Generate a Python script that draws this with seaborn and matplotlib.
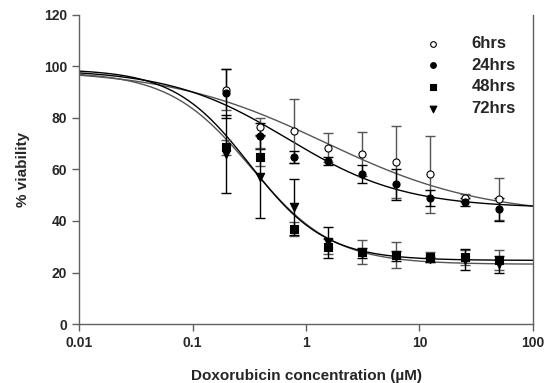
import numpy as np
import pandas as pd
import matplotlib
matplotlib.use("Agg")
import matplotlib.pyplot as plt
import seaborn as sns

# ---- data ----
conc = [0.195, 0.39, 0.78, 1.56, 3.125, 6.25, 12.5, 25, 50]
series = ["6hrs", "24hrs", "48hrs", "72hrs"]
v6 = [91.0, 76.4, 75.0, 68.5, 65.9, 63.0, 58.1, 48.8, 48.5]
e6 = [8.0, 3.5, 12.4, 5.5, 8.5, 14.0, 15.0, 1.5, 8.3]
v24 = [89.5, 72.9, 64.8, 63.3, 58.3, 54.2, 49.0, 47.5, 44.5]
e24 = [9.5, 5.0, 2.3, 1.5, 3.5, 6.0, 3.0, 1.5, 4.4]
v48 = [68.6, 64.9, 36.8, 30.0, 28.0, 26.8, 26.1, 25.9, 24.9]
e48 = [3.0, 3.6, 2.7, 3.0, 4.8, 5.0, 2.0, 3.0, 4.0]
v72 = [66.0, 57.2, 45.4, 31.7, 27.5, 26.4, 25.2, 25.0, 23.2]
e72 = [15.3, 16.0, 11.0, 6.0, 2.0, 2.0, 1.0, 4.0, 3.4]
values = [v6, v24, v48, v72]
errors = [e6, e24, e48, e72]

# fitted four-parameter logistic curves: top, bottom, EC50, Hill slope
fit_top = [99.0, 99.0, 98.0, 99.0]
fit_bottom = [42.0, 45.0, 23.2, 24.7]
fit_ec50 = [1.47, 0.684, 0.33, 0.32]
fit_hill = [0.626, 0.84, 1.2, 1.3]

xticks = [0.01, 0.1, 1, 10, 100]
xtick_labels = ["0.01", "0.1", "1", "10", "100"]
yticks = [0, 20, 40, 60, 80, 100, 120]

# ---- styles ----
markers = ["o", "o", "s", "v"]
face = ["white", "black", "black", "black"]
sizes = [26, 26, 32, 36]
line_colors = ["#555555", "black", "#555555", "black"]
err_colors = ["#555555", "black", "#555555", "black"]

sns.set_theme(style="white")
plt.rcParams["font.family"] = ["Liberation Sans", "DejaVu Sans"]
plt.rcParams["font.weight"] = "bold"

fig, ax = plt.subplots(figsize=(5.46, 3.83), dpi=100)
fig.subplots_adjust(left=0.145, right=0.976, top=0.961, bottom=0.154)

xs = np.logspace(-2, 2, 300)
curve_rows = []
for name, t, b, ec, h in zip(series, fit_top, fit_bottom, fit_ec50, fit_hill):
    ys = b + (t - b) / (1 + (xs / ec) ** h)
    curve_rows.append(pd.DataFrame({"x": xs, "y": ys, "series": name}))
curves = pd.concat(curve_rows, ignore_index=True)

for i, name in enumerate(series):
    sns.lineplot(data=curves[curves.series == name], x="x", y="y", ax=ax,
                 color=line_colors[i], lw=1.0, legend=False, zorder=2)

for i, name in enumerate(series):
    ax.errorbar(conc, values[i], yerr=errors[i], fmt="none", ecolor=err_colors[i],
                elinewidth=1.0, capsize=3.5, capthick=1.0, zorder=3)

pts = pd.DataFrame({
    "x": np.tile(conc, 4),
    "y": np.concatenate(values),
    "series": np.repeat(series, len(conc)),
})
for i, name in enumerate(series):
    sub = pts[pts.series == name]
    sns.scatterplot(data=sub, x="x", y="y", ax=ax, marker=markers[i],
                    facecolor=face[i], edgecolor="black", linewidth=0.8,
                    s=sizes[i], zorder=4, label=name)

ax.set_xscale("log")
ax.set_xlim(0.01, 100)
ax.set_ylim(0, 120)
ax.set_xticks(xticks)
ax.set_xticklabels(xtick_labels)
ax.xaxis.set_minor_locator(matplotlib.ticker.NullLocator())
ax.set_yticks(yticks)

ax.set_xlabel("Doxorubicin concentration (\u00b5M)", fontsize=11, fontweight="bold", labelpad=14)
ax.set_ylabel("% viability", fontsize=11, fontweight="bold", labelpad=10)

for sp in ["left", "bottom", "right"]:
    ax.spines[sp].set_visible(True)
    ax.spines[sp].set_color("#606060")
    ax.spines[sp].set_linewidth(1.0)
ax.spines["top"].set_visible(False)

ax.tick_params(axis="both", which="major", direction="out", length=5, width=1,
               color="#606060", labelsize=10, bottom=True, left=True, right=False, top=False)
for lab in ax.get_xticklabels() + ax.get_yticklabels():
    lab.set_fontweight("bold")

leg = ax.legend(loc="upper right", frameon=False, fontsize=12, handletextpad=1.3,
                labelspacing=0.4, bbox_to_anchor=(0.995, 0.98), markerscale=0.8)
for t in leg.get_texts():
    t.set_fontweight("bold")

fig.savefig("out.png", dpi=100)
